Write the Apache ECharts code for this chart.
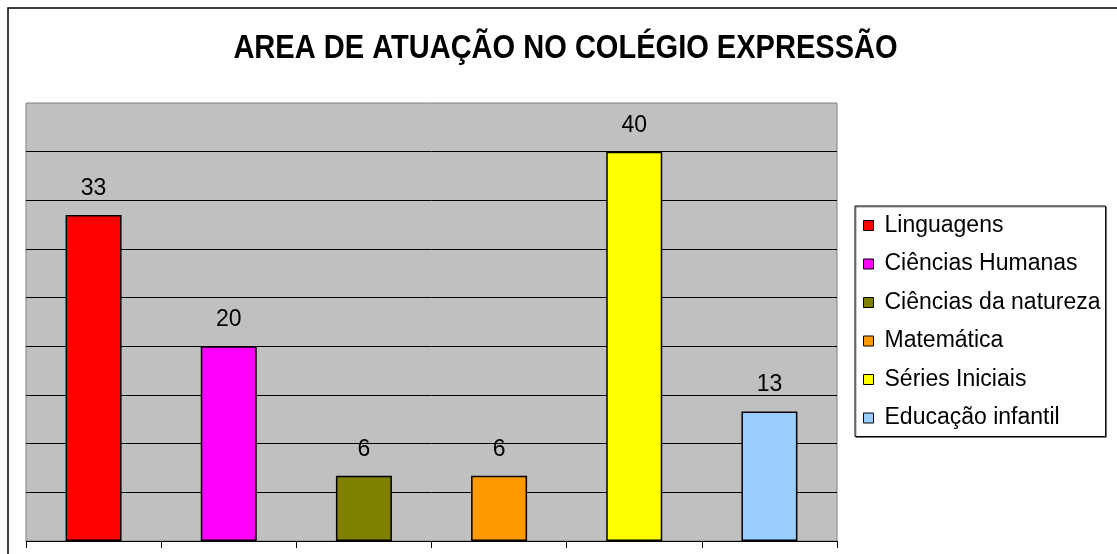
<!DOCTYPE html>
<html>
<head>
<meta charset="utf-8">
<script src="https://cdn.jsdelivr.net/npm/echarts@6/dist/echarts.min.js"></script>
<style>
html,body{margin:0;padding:0;background:#fff;}
#chart{width:1117px;height:554px;}
</style>
</head>
<body>
<div id="chart"></div>
<script>
const titleText = 'AREA DE ATUAÇÃO NO COLÉGIO EXPRESSÃO';
const categories = ['Linguagens', 'Ciências Humanas', 'Ciências da natureza', 'Matemática', 'Séries Iniciais', 'Educação infantil'];
const values = [33.5, 20, 6.7, 6.7, 40, 13.3];
const valueLabels = ['33', '20', '6', '6', '40', '13'];
const colors = ['#FF0000', '#FF00FF', '#808000', '#FF9900', '#FFFF00', '#99CCFF'];
const yMin = 0, yMax = 45, yInterval = 5;

const series = categories.map((name, i) => ({
  name: name,
  type: 'bar',
  barWidth: 56,
  barGap: '-100%',
  data: categories.map((c, j) => (j === i ? values[i] : null)),
  itemStyle: { color: colors[i], borderColor: '#000', borderWidth: 1.5 },
  label: {
    show: true,
    position: 'top',
    distance: 15,
    color: '#000',
    fontFamily: 'Liberation Sans',
    fontSize: 23,
    formatter: () => valueLabels[i]
  },
  emphasis: { disabled: true }
}));

const chart = echarts.init(document.getElementById('chart'), null, { renderer: 'canvas' });
chart.setOption({
  animation: false,
  backgroundColor: '#fff',
  graphic: [{
    type: 'rect',
    shape: { x: 8, y: 8, width: 1300, height: 800 },
    style: { fill: null, stroke: '#000', lineWidth: 1.5 },
    z: 100
  }, {
    type: 'text',
    x: 565.5,
    y: 49,
    scaleX: 0.88,
    style: {
      text: titleText,
      font: 'bold 33px "Liberation Sans", Arial, sans-serif',
      fill: '#000',
      align: 'center',
      verticalAlign: 'middle'
    },
    z: 100
  }],
  legend: {
    orient: 'vertical',
    left: 855,
    top: 206,
    padding: [8, 5, 7, 8],
    itemGap: 15.5,
    itemWidth: 10,
    itemHeight: 10,
    icon: 'rect',
    backgroundColor: '#fff',
    borderColor: '#000',
    borderWidth: 1,
    shadowColor: 'rgba(0,0,0,0.4)',
    shadowOffsetX: 1,
    shadowOffsetY: 1,
    itemStyle: { borderColor: '#000', borderWidth: 1 },
    textStyle: { fontFamily: 'Liberation Sans', fontSize: 23, color: '#000', lineHeight: 22, padding: [0, 0, 0, 6] },
    data: categories
  },
  grid: {
    left: 26, right: 280, top: 103, bottom: 13,
    show: true, backgroundColor: '#C0C0C0', borderColor: '#808080', borderWidth: 1
  },
  xAxis: {
    type: 'category',
    data: categories,
    axisLine: { lineStyle: { color: '#000', width: 1 } },
    axisTick: { show: true, length: 7, interval: 0, lineStyle: { color: '#000' } },
    axisLabel: { show: false }
  },
  yAxis: {
    type: 'value',
    min: yMin, max: yMax, interval: yInterval,
    axisLine: { show: false },
    axisTick: { show: false },
    axisLabel: { show: false },
    splitLine: { show: true, showMaxLine: false, showMinLine: false, lineStyle: { color: '#000', width: 1 } }
  },
  series: series
});
</script>
</body>
</html>
